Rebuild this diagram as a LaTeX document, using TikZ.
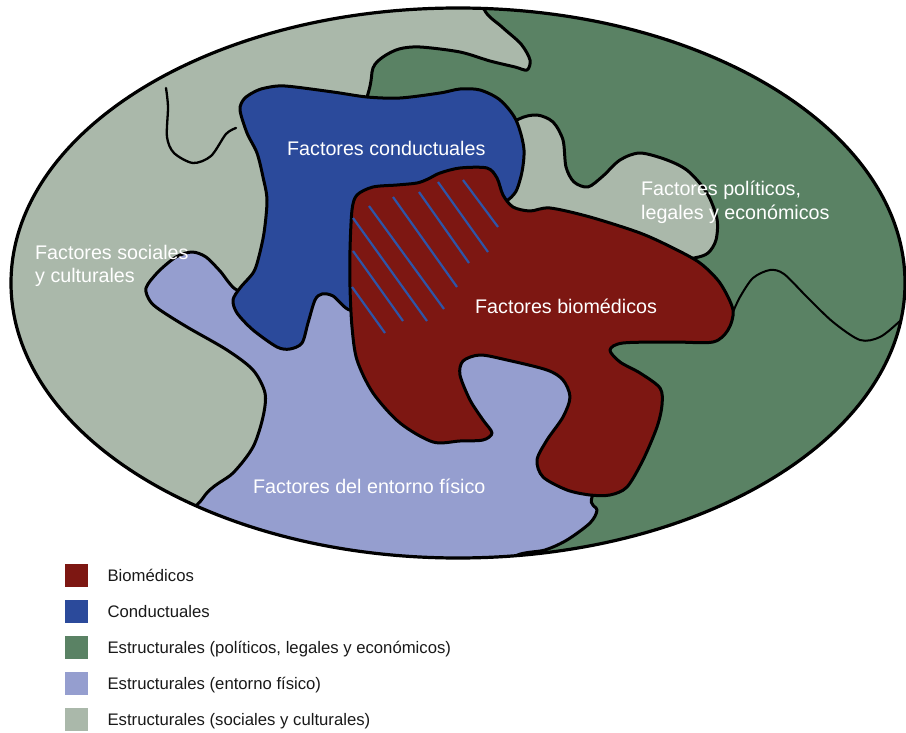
\documentclass[tikz,border=0pt]{standalone}
\usepackage{fontspec}
\setmainfont{Liberation Sans}
\usepackage{xcolor}
\usetikzlibrary{positioning}
\definecolor{biored}{HTML}{7D1712}
\definecolor{condblue}{HTML}{2B4A9B}
\definecolor{hatchblue}{HTML}{2E55A8}
\definecolor{polgreen}{HTML}{5A8264}
\definecolor{envlilac}{HTML}{959ECF}
\definecolor{socsage}{HTML}{AAB8AA}
\tikzstyle{zone} = [draw=black, line width=3pt, line join=round]
\tikzstyle{seam} = [draw=black, line width=2.3pt, line cap=round]
\tikzstyle{hatch} = [draw=hatchblue, line width=2.2pt]
\tikzstyle{zonetext} = [text=white, font=\fontsize{19.7}{23}\selectfont, inner sep=0pt, anchor=base west]
\tikzstyle{legbox} = [rectangle, minimum size=23pt, inner sep=0pt, anchor=north west]
\tikzstyle{legtext} = [text=black!90, font=\fontsize{16.7}{20}\selectfont, inner sep=0pt, anchor=base west]
\begin{document}
\begin{tikzpicture}[x=1pt, y=-1pt]
    \useasboundingbox (0,0) rectangle (906,733);

    \begin{scope}
        \clip (458,283) ellipse [x radius=447pt, y radius=275pt];
        \fill[polgreen] (458,283) ellipse [x radius=447pt, y radius=275pt];
        % sociales y culturales
        \filldraw[zone, fill=socsage] plot[smooth cycle, tension=0.5] coordinates {
            (478,-30) (484,9) (502,27) (521,44) (530,60) (527,70) (515,67) (490,61) (460,52)
            (420,47) (399,49) (383,57) (373,68) (367,97) (330,200) (292,350) (276,470)
            (262,570) (-30,570) (-30,-30)};
        \filldraw[zone, fill=socsage] plot[smooth cycle, tension=0.5] coordinates {
            (500,135) (519,119) (537,115) (553,122) (563,140) (566,167) (574,182) (588,187)
            (603,176) (620,160) (640,153) (667,160) (688,171) (707,193) (717,219) (716,240)
            (708,253) (694,258) (660,262) (600,240) (530,230) (500,200)};
        \draw[seam] plot[smooth, tension=0.5] coordinates {
            (166,88) (168,107) (167,137) (174,153) (193,163) (211,156) (226,134) (236,128)};
        % entorno fisico
        \filldraw[zone, fill=envlilac] plot[smooth cycle, tension=0.5] coordinates {
            (237,290) (220,271) (206,257) (192,252) (176,257) (158,272) (146,288) (150,301)
            (160,310) (187,327) (227,350) (253,370) (265,393) (263,417) (253,447) (233,473)
            (203,498) (170,570) (480,600) (512,558) (545,550) (567,540) (590,523) (597,510)
            (592,497) (620,440) (600,375) (540,340) (460,340) (400,300) (340,290) (260,285)};
        % conductuales
        \filldraw[zone, fill=condblue] plot[smooth cycle, tension=0.5] coordinates {
            (240,110) (244,99) (254,92) (265,88) (285,86) (333,92) (367,97) (400,98) (440,93)
            (460,89) (480,90) (500,100) (516,120) (524,150) (520,180) (508,200) (450,235)
            (370,300) (350,310) (333,296) (322,294) (315,300) (308,323) (302,343) (290,349)
            (277,347) (253,330) (237,313) (233,300) (240,288) (253,273) (258,260) (264,233)
            (267,200) (263,177) (257,153) (247,133)};
        % biomedicos
        \filldraw[zone, fill=biored] plot[smooth cycle, tension=0.5] coordinates {
            (352,210) (357,195) (373,187) (397,185) (417,183) (428,179) (440,173) (460,168)
            (487,168) (497,178) (503,195) (513,207) (530,211) (550,208) (590,217) (640,233)
            (673,248) (700,263) (720,283) (733,310) (728,330) (713,342) (673,342) (623,343)
            (610,350) (620,362) (640,373) (660,388) (662,405) (657,427) (643,460) (627,487)
            (610,495) (590,495) (567,490) (543,477) (537,460) (547,440) (563,417) (570,397)
            (563,380) (547,370) (507,360) (480,355) (463,361) (460,375) (470,400) (483,420)
            (492,433) (483,440) (460,441) (433,442) (400,423) (373,393) (357,360) (352,327)
            (350,287) (350,250)};
        \draw[seam, line width=2pt] plot[smooth, tension=0.5] coordinates {
            (733,312) (740,297) (753,278) (770,270) (784,274) (807,297) (833,322) (860,340)
            (880,337) (900,321) (915,306)};
        \draw[hatch] (463,180) -- (498,227);
        \draw[hatch] (438,182) -- (488,252);
        \draw[hatch] (419,192) -- (469,263);
        \draw[hatch] (393,197) -- (457,287);
        \draw[hatch] (369,206) -- (444,309);
        \draw[hatch] (353,218) -- (427,321);
        \draw[hatch] (353,251) -- (403,321);
        \draw[hatch] (352,287) -- (385,333);
    \end{scope}
    \draw[line width=3.2pt] (458,283) ellipse [x radius=447pt, y radius=275pt];

    \node (tcond) [zonetext] at (287,156) {Factores conductuales};
    \node (tsoc) [zonetext] at (35,259) {Factores sociales};
    \node (tsocb) [zonetext] at (35,282) {y culturales};
    \node (tpol) [zonetext] at (641,196) {Factores políticos,};
    \node (tpolb) [zonetext] at (641,220) {legales y económicos};
    \node (tbio) [zonetext] at (475,313) {Factores biomédicos};
    \node (tenv) [zonetext] at (253,493) {Factores del entorno físico};

    \node (kbio) [legbox, fill=biored] at (65,564) {};
    \node (kcond) [legbox, fill=condblue] at (65,600) {};
    \node (kpol) [legbox, fill=polgreen] at (65,636) {};
    \node (kenv) [legbox, fill=envlilac] at (65,672) {};
    \node (ksoc) [legbox, fill=socsage] at (65,708) {};
    \node (lbio) [legtext] at ([xshift=19pt, yshift=-5.5pt]kbio.east) {Biomédicos};
    \node (lcond) [legtext] at ([xshift=19pt, yshift=-5.5pt]kcond.east) {Conductuales};
    \node (lpol) [legtext] at ([xshift=19pt, yshift=-5.5pt]kpol.east) {Estructurales (políticos, legales y económicos)};
    \node (lenv) [legtext] at ([xshift=19pt, yshift=-5.5pt]kenv.east) {Estructurales (entorno físico)};
    \node (lsoc) [legtext] at ([xshift=19pt, yshift=-5.5pt]ksoc.east) {Estructurales (sociales y culturales)};
\end{tikzpicture}
\end{document}
